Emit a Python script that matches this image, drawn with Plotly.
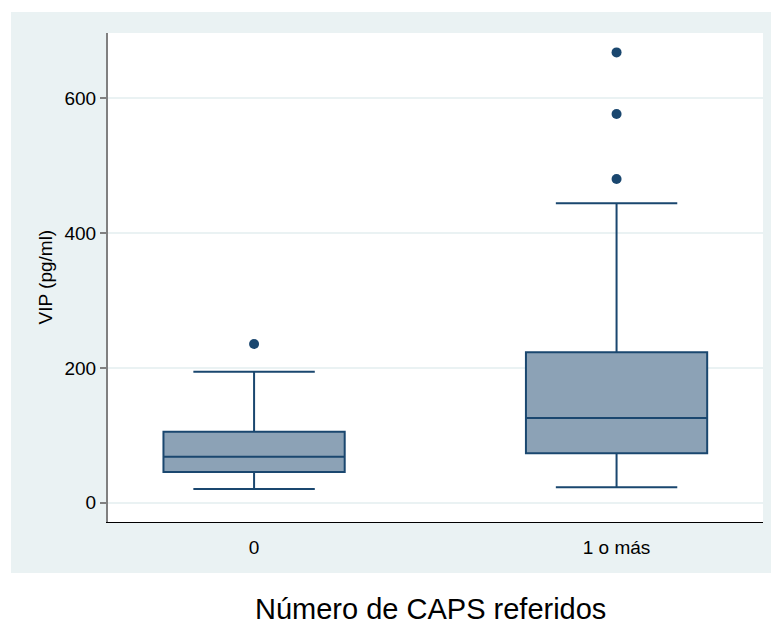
import plotly.graph_objects as go

# Summary statistics of VIP (pg/ml) by number of CAPS referred
categories = ["0", "1 o más"]
q1 = [45.5, 73.3]
median = [68.2, 125.7]
q3 = [105.3, 223.1]
lower_whisker = [20.3, 22.8]
upper_whisker = [194.4, 444.2]

outlier_group = ["0", "1 o más", "1 o más", "1 o más"]
outlier_value = [235.5, 480.3, 576.8, 668.2]

y_ticks = [0, 200, 400, 600]

NAVY = "#1A476F"
BOX_FILL = "#8CA2B6"
PANEL = "#EAF2F3"
FONT = "Liberation Sans, Arial, sans-serif"

W, H = 771, 624
L, R, T, B = 108, 763, 33, 522   # plot area in pixels
pw, ph = R - L, B - T


def px_x(x):
    return (x - L) / pw


def px_y(y):
    return (B - y) / ph


fig = go.Figure()

fig.add_trace(go.Box(
    x=categories,
    q1=q1, median=median, q3=q3,
    lowerfence=lower_whisker, upperfence=upper_whisker,
    boxpoints=False,
    fillcolor=BOX_FILL,
    line=dict(color=NAVY, width=2),
    whiskerwidth=0.67,
    width=0.5,
    showlegend=False,
    hoverinfo="skip",
))

fig.add_trace(go.Scatter(
    x=outlier_group, y=outlier_value,
    mode="markers",
    marker=dict(color=NAVY, size=10),
    showlegend=False,
    hoverinfo="skip",
))

# gray outer panel and white plotting region
fig.add_shape(type="rect", xref="paper", yref="paper",
              x0=px_x(11), x1=px_x(771), y0=px_y(573), y1=px_y(12),
              fillcolor=PANEL, line=dict(width=0), layer="below")
fig.add_shape(type="rect", xref="paper", yref="paper",
              x0=0, x1=1, y0=0, y1=1,
              fillcolor="white", line=dict(width=0), layer="below")

fig.add_annotation(text="VIP (pg/ml)", xref="paper", yref="paper",
                   x=px_x(45), y=0.5, xanchor="center", yanchor="middle",
                   textangle=-90, showarrow=False,
                   font=dict(family=FONT, size=19, color="black"))
fig.add_annotation(text="Número de CAPS referidos", xref="paper", yref="paper",
                   x=px_x(430), y=px_y(609), xanchor="center", yanchor="middle",
                   showarrow=False,
                   font=dict(family=FONT, size=29, color="black"))

fig.update_layout(
    width=W, height=H,
    margin=dict(l=L, r=W - R, t=T, b=H - B, pad=0),
    paper_bgcolor="white",
    plot_bgcolor="rgba(0,0,0,0)",
    font=dict(family=FONT, size=19, color="black"),
    showlegend=False,
)

fig.update_xaxes(
    type="category",
    range=[-0.403, 1.404],
    showgrid=False, zeroline=False,
    showline=True, linecolor="#000000", linewidth=1.3,
    ticks="outside", ticklen=8, tickcolor="rgba(0,0,0,0)",
    tickfont=dict(family=FONT, size=19, color="black"),
)

fig.update_yaxes(
    range=[-28.6, 697],
    tickvals=y_ticks, ticktext=[str(v) for v in y_ticks],
    showgrid=True, gridcolor=PANEL, gridwidth=1.5,
    zeroline=False,
    showline=True, linecolor="#808080", linewidth=2,
    ticks="outside", ticklen=6, tickcolor="#808080", tickwidth=1.5,
    tickfont=dict(family=FONT, size=19, color="black"),
)

fig.write_html("out.html")
